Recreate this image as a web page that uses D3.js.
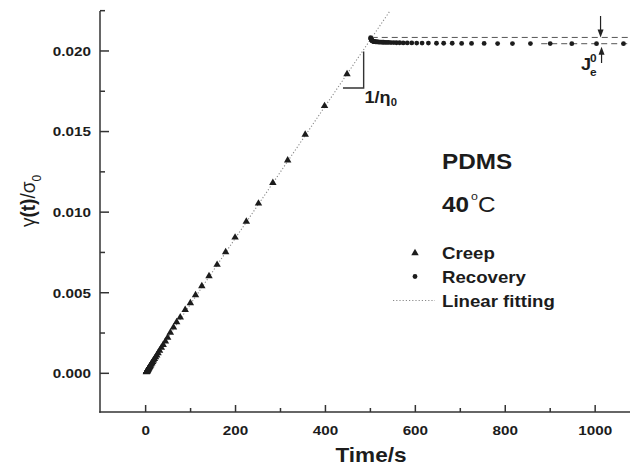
<!DOCTYPE html>
<html><head><meta charset="utf-8">
<script src="https://cdn.jsdelivr.net/npm/d3@7"></script>
<style>body{margin:0;background:#fff}svg{display:block}</style>
</head><body>
<script>
// ---- data ----
const creepTime = [1.8,2.0,2.2,2.5,2.8,3.1,3.5,3.9,4.4,4.9,5.5,6.2,7.0,7.8,8.8,9.8,11,12.4,13.9,15.6,17.5,19.6,22,24.6,27.6,31,35,39,44,49,55,62,69,77,88,99.5,111,125,141,159,178,199,224,251,283,316,355,398,448];
const creepValue = [0.00008,0.00009,0.0001,0.00011,0.00013,0.00014,0.00016,0.00018,0.0002,0.00022,0.00025,0.00028,0.00032,0.00036,0.0004,0.00045,0.0005,0.00057,0.00063,0.00071,0.0008,0.00089,0.001,0.00112,0.00126,0.00141,0.00159,0.00177,0.00199,0.00222,0.00253,0.00285,0.00318,0.00348,0.00394,0.00436,0.00486,0.00541,0.00603,0.00674,0.00752,0.00843,0.00942,0.01054,0.01182,0.01322,0.01481,0.01659,0.01857];
const recoveryTime = [500.5,500.9,501.3,501.7,502.2,502.7,503.3,504,504.8,505.6,506.5,507.6,508.7,510,511.5,513,514.8,516.7,518.7,521,523.5,526.3,529.5,533,537,541,546,552,558,565,573,582,592,603,615,629,647,663,682,703,725,753,783,816,856,900,948,1003,1063];
const recoveryValue = [0.02082,0.02078,0.02075,0.02072,0.02069,0.02067,0.02065,0.02063,0.02062,0.02061,0.0206,0.02059,0.02058,0.02058,0.02057,0.02057,0.02056,0.02056,0.02055,0.02055,0.02055,0.02054,0.02054,0.02053,0.02053,0.02053,0.02052,0.02052,0.02051,0.02051,0.0205,0.0205,0.0205,0.02049,0.02049,0.02049,0.02048,0.02048,0.02048,0.02047,0.02047,0.02047,0.02046,0.02046,0.02046,0.02046,0.02045,0.02045,0.02045];
const fitTime = [0, 560];
const fitValue = [0.0002, 0.02316];
const xTicks = [0,200,400,600,800,1000];
const xMinor = [100,300,500,700,900];
const yTicks = [0,0.005,0.010,0.015,0.020];
const yMinor = [0.0025,0.0075,0.0125,0.0175,0.0225];
const legendLabels = ["Creep","Recovery","Linear fitting"];
// annotation levels (data units)
const upperLevel = 0.02084, lowerLevel = 0.02045;

// ---- layout ----
const W=630,H=470, L=100, R=630, T=11, B=412;
const SX=1.13; // horizontal glyph stretch of the original
const FONT='"Liberation Sans", Arial, Helvetica, sans-serif';
const ink='#1c1c1c';

const svg=d3.select('body').append('svg').attr('width',W).attr('height',H);
const x=d3.scaleLinear().domain([-101.5,1077.5]).range([L,R]);
const y=d3.scaleLinear().domain([-0.0024,0.02248]).range([B,T]);

function txt(g,px,py,s,o={}){
  const t=g.append('text')
    .attr('transform',`translate(${px},${py}) scale(${o.sx||SX},1)`)
    .attr('font-family',FONT).attr('font-size',o.size||13)
    .attr('font-weight',o.weight||'bold').attr('fill',o.fill||ink)
    .attr('text-anchor',o.anchor||'start');
  t.text(s);
  return t;
}

svg.append('defs').append('clipPath').attr('id','clip')
  .append('rect').attr('x',L).attr('y',T).attr('width',R-L).attr('height',B-T);
const plot=svg.append('g').attr('clip-path','url(#clip)');

// linear fit (dotted)
plot.append('path')
  .datum(fitTime.map((t,i)=>[t,fitValue[i]]))
  .attr('d',d3.line().x(d=>x(d[0])).y(d=>y(d[1])))
  .attr('fill','none').attr('stroke','#8a8a8a').attr('stroke-width',1.1)
  .attr('stroke-dasharray','1.2,2');

// dashed reference lines
plot.append('line').attr('x1',x(503)).attr('x2',R).attr('y1',y(upperLevel)).attr('y2',y(upperLevel))
  .attr('stroke','#555').attr('stroke-width',1).attr('stroke-dasharray','6,4');
plot.append('line').attr('x1',x(880)).attr('x2',R).attr('y1',y(lowerLevel)).attr('y2',y(lowerLevel))
  .attr('stroke','#555').attr('stroke-width',1).attr('stroke-dasharray','6,4');

// creep triangles
const tri=d3.symbol().type(d3.symbolTriangle).size(24);
plot.selectAll('path.creep').data(creepTime.map((t,i)=>[t,creepValue[i]])).join('path')
  .attr('class','creep').attr('d',tri)
  .attr('transform',d=>`translate(${x(d[0])},${y(d[1])})`).attr('fill',ink);

// recovery circles
plot.selectAll('circle.rec').data(recoveryTime.map((t,i)=>[t,recoveryValue[i]])).join('circle')
  .attr('class','rec').attr('cx',d=>x(d[0])).attr('cy',d=>y(d[1])).attr('r',2.4).attr('fill',ink);

// axes
const ax=svg.append('g').attr('stroke','#333').attr('stroke-width',1.5);
ax.append('line').attr('x1',L).attr('x2',L).attr('y1',T).attr('y2',B+0.75);
ax.append('line').attr('x1',L-0.75).attr('x2',R).attr('y1',B).attr('y2',B);
xTicks.forEach(v=>ax.append('line').attr('x1',x(v)).attr('x2',x(v)).attr('y1',B).attr('y2',B-7));
xMinor.forEach(v=>ax.append('line').attr('x1',x(v)).attr('x2',x(v)).attr('y1',B).attr('y2',B-4));
yTicks.forEach(v=>ax.append('line').attr('x1',L).attr('x2',L+9).attr('y1',y(v)).attr('y2',y(v)));
yMinor.forEach(v=>ax.append('line').attr('x1',L).attr('x2',L+5).attr('y1',y(v)).attr('y2',y(v)));

const lab=svg.append('g');
xTicks.forEach(v=>txt(lab,x(v),435,d3.format('d')(v),{anchor:'middle',size:13.5}));
yTicks.forEach(v=>txt(lab,91,y(v)+4.8,d3.format('.3f')(v),{anchor:'end',size:13.5}));

// axis titles
txt(lab,371,462,'Time/s',{anchor:'middle',size:20});
const yl=lab.append('text').attr('transform','translate(35,201) rotate(-90) scale(1,1.1)')
  .attr('font-family',FONT).attr('font-size',19).attr('fill',ink).attr('text-anchor','middle');
yl.append('tspan').text('γ');
yl.append('tspan').attr('font-weight','bold').text('(t)');
yl.append('tspan').text('/σ');
yl.append('tspan').attr('font-size',12).attr('dy',5).text('0');

// slope bracket
svg.append('path')
  .attr('d',`M${x(439)},${y(0.0177)}H${x(485)}V${y(0.01996)}`)
  .attr('fill','none').attr('stroke','#333').attr('stroke-width',1.4);
const eta=svg.append('text').attr('transform',`translate(${x(487)},103) scale(${SX},1)`)
  .attr('font-family',FONT).attr('font-size',16).attr('font-weight','bold').attr('fill',ink);
eta.append('tspan').text('1/η');
eta.append('tspan').attr('font-size',10).attr('dy',3).text('0');

// Je0 arrows
const ar=svg.append('g').attr('stroke','#222').attr('fill','#222');
const ax0=x(1012);
ar.append('line').attr('x1',ax0).attr('x2',ax0).attr('y1',16).attr('y2',y(upperLevel)-6).attr('stroke-width',1.2);
ar.append('path').attr('d',`M${ax0-3},${y(upperLevel)-8}L${ax0+3},${y(upperLevel)-8}L${ax0},${y(upperLevel)}Z`).attr('stroke','none');
ar.append('line').attr('x1',ax0+1).attr('x2',ax0+1).attr('y1',63).attr('y2',y(lowerLevel)+8).attr('stroke-width',1.2);
ar.append('path').attr('d',`M${ax0-2},${y(lowerLevel)+11}L${ax0+4},${y(lowerLevel)+11}L${ax0+1},${y(lowerLevel)+3}Z`).attr('stroke','none');
txt(svg,581,70,'J',{size:16});
txt(svg,590,62,'0',{size:10.5});
txt(svg,590,76,'e',{size:10.5});

// sample labels
txt(svg,442,169,'PDMS',{size:21.5});
txt(svg,442,212,'40',{size:21.5});
txt(svg,471,200,'o',{size:11,weight:'normal'});
txt(svg,478,212,'C',{size:21.5,weight:'normal'});

// legend
const lg=svg.append('g');
lg.append('path').attr('d',tri).attr('transform','translate(415,253)').attr('fill',ink);
lg.append('circle').attr('cx',415).attr('cy',276.5).attr('r',2.4).attr('fill',ink);
lg.append('line').attr('x1',393).attr('x2',435).attr('y1',300.5).attr('y2',300.5)
  .attr('stroke','#8a8a8a').attr('stroke-width',1.1).attr('stroke-dasharray','1.2,2');
legendLabels.forEach((s,i)=>txt(lg,442,258.5+i*24,s,{size:16.5}));
</script>
</body></html>
